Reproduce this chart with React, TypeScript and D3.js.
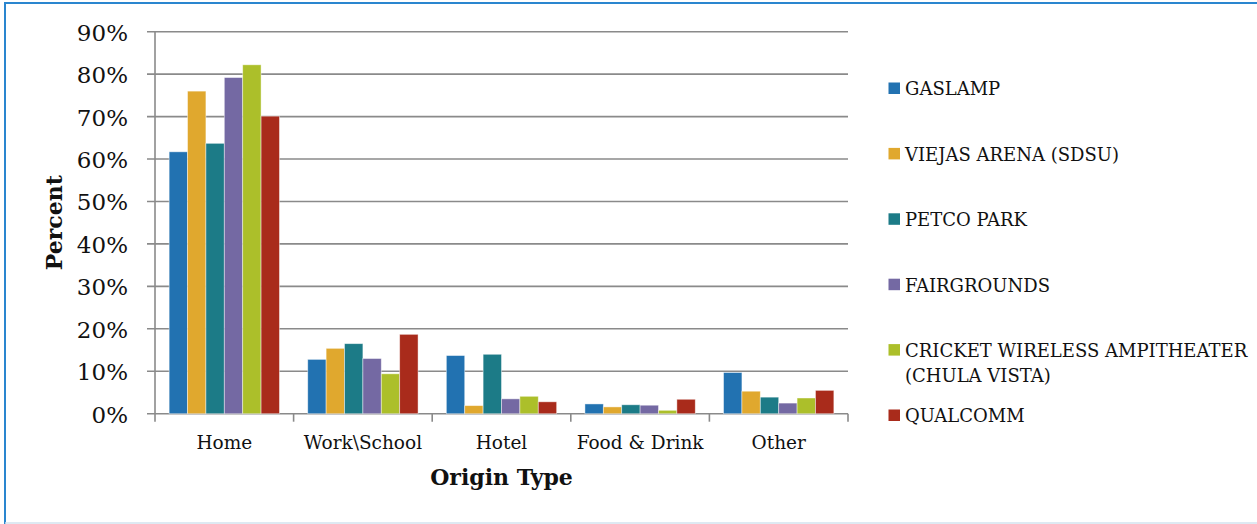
import {scaleBand, scaleLinear} from "d3";

const categories = ["Home", "Work\\School", "Hotel", "Food & Drink", "Other"];
const seriesNames = [
    "GASLAMP",
    "VIEJAS ARENA (SDSU)",
    "PETCO PARK",
    "FAIRGROUNDS",
    "CRICKET WIRELESS AMPITHEATER\n(CHULA VISTA)",
    "QUALCOMM",
];
const seriesColors = ["#2272b1", "#e0a82e", "#1c7b87", "#7469a3", "#acbf2a", "#a92b1b"];

// percent per origin type, same order as categories
const gaslamp = [61.7, 12.8, 13.7, 2.3, 9.7];
const viejas = [76.0, 15.4, 1.9, 1.6, 5.3];
const petco = [63.7, 16.5, 14.0, 2.1, 3.9];
const fairgrounds = [79.2, 13.0, 3.5, 2.0, 2.5];
const cricket = [82.2, 9.4, 4.1, 0.8, 3.7];
const qualcomm = [70.1, 18.7, 2.8, 3.4, 5.5];
const seriesValues = [gaslamp, viejas, petco, fairgrounds, cricket, qualcomm];

const yTicks = [0, 10, 20, 30, 40, 50, 60, 70, 80, 90];

const W = 1257;
const H = 524;
const left = 155;
const right = 848;
const top = 31.7;
const bottom = 413.7;
const font = "'DejaVu Serif', serif";
const gridColor = "#8a8a8a";

export default function App() {
    const x0 = scaleBand<string>()
        .domain(categories)
        .range([left, right])
        .paddingInner(0.204)
        .paddingOuter(0.102);
    const x1 = scaleBand<number>()
        .domain(seriesNames.map((_, i) => i))
        .range([0, x0.bandwidth()]);
    const y = scaleLinear().domain([0, 90]).range([bottom, top]);
    const step = x0.step();
    const boundaries = categories.map((_, i) => left + i * step).concat([right]);

    return (
        <svg width={W} height={H} style={{position: "absolute", left: 0, top: 0, background: "#fff"}}>
            {/* frame */}
            <line x1={5} x2={W} y1={3} y2={3} stroke="#2a86cf" strokeWidth={2}/>
            <line x1={5} x2={5} y1={2} y2={H} stroke="#2a86cf" strokeWidth={2}/>
            <line x1={5} x2={W} y1={523} y2={523} stroke="#d3e2ee" strokeWidth={1.5}/>

            {/* gridlines + y ticks */}
            {yTicks.map(t => (
                <g key={t}>
                    <line x1={left - 8} x2={right} y1={y(t)} y2={y(t)} stroke={gridColor} strokeWidth={1.6}/>
                    <text x={128} y={y(t) + 9} textAnchor="end" fontFamily={font} fontSize={23} fill="#111">
                        {t}%
                    </text>
                </g>
            ))}
            <line x1={left} x2={left} y1={top} y2={bottom} stroke={gridColor} strokeWidth={1.6}/>
            {boundaries.map((bx, i) => (
                <line key={i} x1={bx} x2={bx} y1={bottom} y2={bottom + 8} stroke={gridColor} strokeWidth={1.6}/>
            ))}

            {/* bars */}
            {categories.map((c, ci) =>
                seriesValues.map((vals, si) => (
                    <rect
                        key={`${ci}-${si}`}
                        x={(x0(c) ?? 0) + (x1(si) ?? 0)}
                        y={y(vals[ci])}
                        width={x1.bandwidth()}
                        height={y(0) - y(vals[ci])}
                        fill={seriesColors[si]}
                        stroke="rgba(255,255,255,0.55)"
                        strokeWidth={0.8}
                    />
                ))
            )}

            {/* category labels */}
            {categories.map(c => (
                <text key={c} x={(x0(c) ?? 0) + x0.bandwidth() / 2} y={449} textAnchor="middle"
                      fontFamily={font} fontSize={18.5} fill="#111">
                    {c}
                </text>
            ))}

            {/* axis titles */}
            <text x={(left + right) / 2} y={485} textAnchor="middle" fontFamily={font} fontSize={22}
                  fontWeight="bold" fill="#111">Origin Type</text>
            <text transform={`translate(62,${(top + bottom) / 2}) rotate(-90)`} textAnchor="middle"
                  fontFamily={font} fontSize={22} fontWeight="bold" fill="#111">Percent</text>

            {/* legend */}
            {seriesNames.map((name, i) => {
                const cy = 88.3 + i * 65.4;
                const lines = name.split("\n");
                return (
                    <g key={name}>
                        <rect x={888.5} y={cy - 5.8} width={11.5} height={11.5} fill={seriesColors[i]}/>
                        {lines.map((ln, j) => (
                            <text key={j} x={905} y={cy + 7 + j * 25} fontFamily={font} fontSize={18} fill="#111">
                                {ln}
                            </text>
                        ))}
                    </g>
                );
            })}
        </svg>
    );
}
